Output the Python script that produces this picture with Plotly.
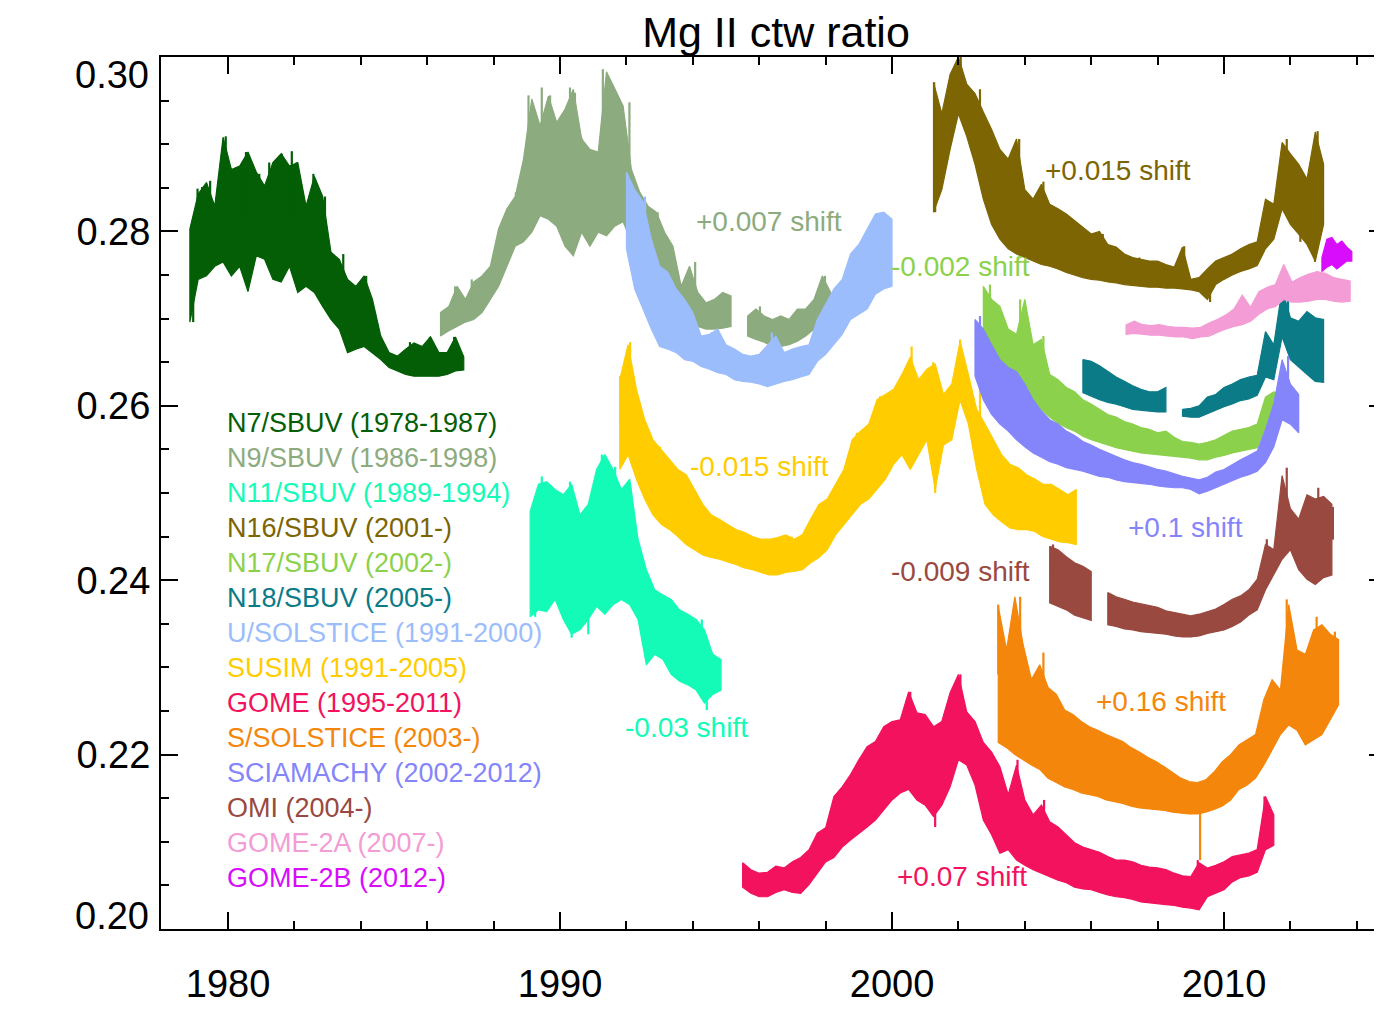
import plotly.graph_objects as go

# ---------------- data (upper / lower envelopes) ----------------
n7_start, n7_step = 1978.85, 0.25
n7_hi = [.2803,.2843,.2856,.2829,.2908,.2871,.2875,.2891,.2868,.2852,.2879,.2889,.2875,.2879,.2829,.2863,.2840,
         .2776,.2768,.2745,.2737,.2749,.2722,.2680,.2661,.2657,.2665,.2672,.2668,.2679,.2661,.2661,.2679,.2656]
n7_lo = [.2696,.2745,.2749,.2760,.2765,.2749,.2760,.2731,.2772,.2768,.2745,.2742,.2760,.2730,.2737,.2730,.2714,
         .2699,.2688,.2661,.2665,.2668,.2661,.2653,.2644,.2640,.2636,.2634,.2634,.2634,.2634,.2636,.2640,.2641]
n7_spk_t = [1978.95,1979.08,1979.22,1979.46,1979.93,1980.41,1980.54,1980.94,1981.24,1981.62,1981.92,1982.07,
            1982.57,1982.92,1983.47,1984.16,1985.48,1986.08,1986.81]
n7_spk_v = [.2696,.2849,.2851,.2858,.2909,.2875,.2891,.2866,.2879,.2889,.2892,.2879,.2866,.2840,.2774,.2749,
            .2673,.2679,.2679]

n9_start, n9_step = 1986.4, 0.25
n9_hi = [.2707,.2714,.2737,.2722,.2742,.2749,.2760,.2803,.2826,.2840,.2883,.2952,.2921,.2955,.2925,.2940,.2963,
         .2906,.2894,.2891,.2983,.2963,.2944,.2871,.2845,.2829,.2822,.2799,.2783,.2737,.2760,.2730,.2718,.2722,
         .2730,.2726,None,.2703,.2711,.2703,.2699,.2703,.2699,.2711,.2711,.2722,.2749,.2730]
n9_lo = [.2680,.2686,.2691,.2696,.2699,.2707,.2722,.2737,.2760,.2783,.2788,.2799,.2818,.2814,.2806,.2783,.2772,
         .2799,.2783,.2799,.2795,.2806,.2811,.2788,.2768,.2757,.2745,.2734,.2726,.2714,.2703,.2691,.2688,.2688,
         .2689,.2691,None,.2680,.2676,.2673,.2668,.2668,.2670,.2674,.2680,.2688,.2699,.2703]
n9_spk_t = [1986.84,1987.34,1988.27,1988.67,1989.05,1989.45,1989.70,1990.30,1990.45,1990.65,1990.98,1991.29,
            1991.59,1992.09,1992.94,1994.07,1996.02,1997.98]
n9_spk_v = [.2737,.2745,.2806,.2845,.2956,.2965,.2956,.2965,.2959,.2907,.2891,.2986,.2961,.2948,.2822,.2765,
            .2714,.2749]

n11_start, n11_step = 1989.1, 0.25
n11_hi = [.2479,.2510,.2513,.2504,.2498,.2510,.2475,.2487,.2527,.2544,.2527,.2504,.2516,.2447,.2412,.2389,.2383,
          .2378,.2366,.2361,.2355,.2343,.2315,.2309]
n11_lo = [.2358,.2366,.2364,.2378,.2355,.2338,.2343,.2355,.2370,.2361,.2372,.2378,.2372,.2355,.2303,.2315,.2309,
          .2292,.2284,.2280,.2274,.2259,.2269,.2274]
n11_spk_t = [1989.25,1989.45,1990.30,1990.35,1990.85,1991.26,1991.66,1992.11,1994.27,1994.42,1994.77]
n11_spk_v = [.2358,.2519,.2513,.2334,.2338,.2544,.2530,.2506,.2355,.2251,.2309]

n16_start, n16_step = 2001.25, 0.25
n16_hi = [.2971,.2935,.2980,.3000,.2969,.2958,.2937,.2917,.2894,.2883,.2906,.2848,.2837,.2854,.2831,.2826,.2820,
          .2812,.2805,.2797,.2800,.2785,.2782,.2774,.2770,.2768,.2766,.2766,.2762,.2759,.2782,.2745,.2747,.2757,
          .2766,.2770,.2774,.2780,.2785,.2788,.2837,.2831,.2902,.2889,.2877,.2860,.2914,.2877]
n16_lo = [.2822,.2848,.2894,.2935,.2909,.2877,.2837,.2808,.2791,.2780,.2774,.2770,.2766,.2762,.2760,.2757,.2753,
          .2750,.2747,.2745,.2744,.2742,.2741,.2739,.2738,.2737,.2736,.2736,.2735,.2735,.2734,.2733,.2731,.2722,
          .2739,.2745,.2750,.2754,.2757,.2761,.2780,.2791,.2826,.2808,.2797,.2785,.2766,.2808]
n16_spk_t = [2001.27,2001.30,2001.85,2002.07,2002.65,2003.83,2004.56,2006.35,2007.45,2008.80,2009.58,2011.89,
             2012.30,2012.74,2012.82]
n16_spk_v = [.2971,.2822,.2983,.3001,.2963,.2906,.2857,.2797,.2770,.2783,.2719,.2906,.2788,.2765,.2915]

n17_start, n17_step = 2002.75, 0.25
n17_hi = [.2737,.2722,.2714,.2688,.2682,.2722,.2670,.2676,.2636,.2630,.2621,.2616,.2607,.2602,.2596,.2590,.2587,
          .2582,.2579,.2575,.2573,.2569,.2571,.2564,.2559,.2558,.2556,.2558,.2561,.2566,.2571,.2573,.2575,.2579,
          .2610,.2616,.2613]
n17_lo = [.2661,.2657,.2650,.2636,.2625,.2613,.2605,.2596,.2587,.2580,.2575,.2571,.2565,.2561,.2558,.2555,.2552,
          .2550,.2548,.2546,.2545,.2544,.2543,.2542,.2541,.2540,.2538,.2538,.2541,.2543,.2546,.2548,.2550,.2552,
          .2575,.2582,.2584]
n17_spk_t = [2002.95,2003.86,2004.56]
n17_spk_v = [.2739,.2722,.2680]

n18_start, n18_step = 2005.75, 0.25
n18_hi = [.2653,.2651,.2646,.2639,.2633,.2628,.2623,.2619,.2616,.2616,.2621,None,.2596,.2597,.2600,.2610,.2613,
          .2621,.2625,.2630,.2633,.2635,.2685,.2670,.2734,.2701,.2697,.2708,.2701,.2699]
n18_lo = [.2615,.2611,.2607,.2604,.2602,.2599,.2596,.2595,.2594,.2593,.2593,None,.2588,.2587,.2587,.2591,.2595,
          .2599,.2602,.2606,.2608,.2612,.2633,.2630,.2679,.2653,.2645,.2636,.2628,.2627]
n18_spk_t = [2011.93]
n18_spk_v = [.2734]

usol_start, usol_step = 1992.0, 0.25
usol_hi = [.2868,.2848,.2834,.2791,.2760,.2753,.2734,.2722,.2707,.2680,.2682,.2688,.2670,.2665,.2659,.2657,.2659,
           .2670,.2680,.2661,.2665,.2668,.2670,.2699,.2716,.2734,.2745,.2774,.2785,.2803,.2820,.2822,.2814]
usol_lo = [.2780,.2734,.2711,.2688,.2668,.2665,.2661,.2653,.2651,.2645,.2642,.2638,.2636,.2630,.2628,.2627,.2625,
           .2622,.2625,.2628,.2630,.2633,.2636,.2651,.2659,.2670,.2682,.2699,.2705,.2711,.2728,.2734,.2737]
usol_spk_t = [1992.56,1996.38,1999.69,1999.88]
usol_spk_v = [.2840,.2684,.2822,.2818]

susim_start, susim_step = 1991.8, 0.25
susim_hi = [.2630,.2670,.2619,.2584,.2561,.2550,.2538,.2527,.2521,.2504,.2487,.2475,.2470,.2464,.2458,.2455,.2450,
            .2447,.2447,.2449,.2452,.2447,.2452,.2470,.2487,.2493,.2510,.2527,.2561,.2571,.2579,.2607,.2613,.2619,
            .2636,.2656,.2630,.2642,.2648,.2613,.2625,.2674,.2636,.2596,.2579,.2561,.2544,.2533,.2529,.2521,.2516,
            .2510,.2510,.2504,.2498,.2504]
susim_lo = [.2527,.2544,.2516,.2493,.2475,.2464,.2458,.2450,.2441,.2435,.2429,.2426,.2424,.2421,.2418,.2414,.2412,
            .2409,.2406,.2406,.2409,.2410,.2412,.2420,.2426,.2435,.2452,.2464,.2475,.2487,.2493,.2504,.2516,.2533,
            .2544,.2527,.2544,.2561,.2504,.2555,.2561,.2607,.2579,.2527,.2487,.2475,.2467,.2460,.2458,.2458,.2456,
            .2450,.2447,.2444,.2443,.2441]
susim_spk_t = [1991.81,1992.11,1993.01,1994.07,1996.98,1998.94,1999.64,2000.59,2001.24,2001.30,2002.05,2002.65,
               2005.51]
susim_spk_v = [.2634,.2673,.2553,.2502,.2450,.2569,.2611,.2668,.2650,.2500,.2676,.2630,.2443]

gome_start, gome_step = 1995.5, 0.25
gome_hi = [.2076,.2068,.2064,.2065,.2072,.2070,.2077,.2082,.2091,.2110,.2116,.2152,.2163,.2177,.2194,.2209,.2215,
           .2232,.2238,.2240,.2272,.2248,.2246,.2232,.2238,.2271,.2292,.2249,.2238,.2214,.2203,.2186,.2154,.2188,
           .2148,.2131,.2142,.2123,.2117,.2108,.2099,.2094,.2091,.2088,.2083,.2079,.2079,.2077,.2073,.2071,.2070,
           .2068,.2064,.2061,.2060,.2076,.2070,.2073,.2077,.2083,.2085,.2087,.2091,.2152,.2131]
gome_lo = [.2048,.2041,.2037,.2037,.2042,.2045,.2042,.2041,.2051,.2064,.2077,.2082,.2094,.2102,.2110,.2117,.2125,
           .2137,.2148,.2156,.2160,.2148,.2142,.2129,.2142,.2163,.2194,.2188,.2165,.2125,.2108,.2087,.2091,.2079,
           .2073,.2068,.2064,.2060,.2056,.2053,.2048,.2046,.2045,.2042,.2039,.2037,.2036,.2034,.2031,.2030,.2029,
           .2028,.2027,.2025,.2024,.2022,.2037,.2041,.2045,.2054,.2059,.2061,.2065,.2091,.2096]
gome_spk_t = [2000.55,2001.30,2002.06,2003.30,2003.78,2004.58,2009.21,2011.22]
gome_spk_v = [.2272,.2117,.2292,.2087,.2194,.2148,.2079,.2152]

ssol_start, ssol_step = 2003.2, 0.25
ssol_hi = [.2370,.2320,.2381,.2326,.2286,.2303,.2277,.2269,.2251,.2246,.2238,.2232,.2228,.2223,.2219,.2215,.2208,
           .2203,.2197,.2192,.2186,.2180,.2173,.2169,.2168,.2171,.2180,.2192,.2200,.2211,.2217,.2223,.2263,.2286,
           .2274,.2372,.2320,.2315,.2343,.2349,.2338,.2332]
ssol_lo = [.2214,.2208,.2200,.2194,.2188,.2183,.2173,.2168,.2163,.2160,.2156,.2154,.2152,.2148,.2146,.2144,.2141,
           .2139,.2138,.2137,.2136,.2134,.2133,.2132,.2132,.2134,.2137,.2141,.2148,.2160,.2165,.2173,.2188,.2206,
           .2223,.2234,.2228,.2211,.2217,.2223,.2240,.2257]
ssol_spk_t = [2003.20,2003.86,2004.56,2009.28,2011.89,2012.79,2013.34]
ssol_spk_v = [.2372,.2381,.2317,.2079,.2378,.2358,.2341]

scia_start, scia_step = 2002.5, 0.25
scia_hi = [.2699,.2688,.2670,.2653,.2644,.2639,.2625,.2607,.2594,.2584,.2579,.2571,.2566,.2559,.2555,.2550,.2546,
           .2542,.2538,.2535,.2533,.2530,.2527,.2525,.2522,.2519,.2517,.2515,.2518,.2524,.2527,.2533,.2538,.2543,
           .2548,.2573,.2602,.2653,.2625,.2613]
scia_lo = [.2634,.2607,.2590,.2579,.2571,.2561,.2553,.2546,.2541,.2536,.2533,.2529,.2527,.2525,.2522,.2519,.2518,
           .2515,.2513,.2512,.2511,.2510,.2508,.2507,.2506,.2506,.2504,.2499,.2502,.2506,.2510,.2514,.2518,.2521,
           .2525,.2535,.2553,.2584,.2579,.2569]
scia_spk_t = [2002.65,2011.93]
scia_spk_v = [.2703,.2657]

omi_start, omi_step = 2004.75, 0.25
omi_hi = [.2439,.2435,.2427,.2420,.2416,.2410,None,.2386,.2381,.2378,.2375,.2373,.2371,.2369,.2365,.2363,.2361,
          .2359,.2361,.2364,.2367,.2372,.2378,.2382,.2389,.2401,.2441,.2435,.2520,.2482,.2470,.2498,.2493,.2496,.2487]
omi_lo = [.2374,.2370,.2366,.2360,.2357,.2354,None,.2349,.2347,.2344,.2343,.2341,.2340,.2339,.2338,.2336,.2335,
          .2335,.2336,.2339,.2341,.2343,.2347,.2352,.2360,.2366,.2389,.2406,.2424,.2435,.2412,.2401,.2395,.2403,.2406]
omi_spk_t = [2004.85,2011.29,2011.89,2012.84,2013.28]
omi_spk_v = [.2441,.2447,.2529,.2506,.2484]

g2a_start, g2a_step = 2007.05, 0.25
g2a_hi = [.2693,.2697,.2693,.2692,.2693,.2691,.2690,.2690,.2689,.2690,.2695,.2699,.2704,.2711,.2727,.2713,.2731,
          .2736,.2739,.2762,.2742,.2747,.2751,.2754,.2752,.2747,.2745,.2743]
g2a_lo = [.2682,.2683,.2682,.2681,.2681,.2680,.2679,.2679,.2677,.2679,.2680,.2684,.2688,.2691,.2693,.2697,.2705,
          .2711,.2714,.2722,.2719,.2719,.2720,.2722,.2722,.2720,.2719,.2720]
g2a_spk_t = []
g2a_spk_v = []

g2b_start, g2b_step = 2012.95, 0.15
g2b_hi = [.2770,.2791,.2793,.2785,.2789,.2782,.2777]
g2b_lo = [.2754,.2759,.2762,.2757,.2762,.2766,.2766]
g2b_spk_t = []
g2b_spk_v = []

legend_labels = ["N7/SBUV (1978-1987)", "N9/SBUV (1986-1998)", "N11/SBUV (1989-1994)", "N16/SBUV (2001-)",
                 "N17/SBUV (2002-)", "N18/SBUV (2005-)", "U/SOLSTICE (1991-2000)", "SUSIM (1991-2005)",
                 "GOME (1995-2011)", "S/SOLSTICE (2003-)", "SCIAMACHY (2002-2012)", "OMI (2004-)",
                 "GOME-2A (2007-)", "GOME-2B (2012-)"]
colors = ["#035e06", "#8cab7e", "#14fbb8", "#7c6502", "#8bd14c", "#0b7b87", "#9cbdfb", "#ffcc00",
          "#f2125e", "#f4860b", "#8585fb", "#99493f", "#f39cd5", "#d70dfb"]

shift_texts = ["+0.007 shift", "-0.002 shift", "+0.015 shift", "-0.015 shift", "+0.1 shift",
               "-0.009 shift", "+0.16 shift", "-0.03 shift", "+0.07 shift"]
shift_x = [1996.3, 2002.05, 2006.8, 1996.0, 2008.85, 2002.05, 2008.1, 1993.8, 2002.1]
shift_y = [0.2811, 0.2760, 0.2870, 0.2530, 0.2460, 0.2410, 0.2261, 0.2231, 0.2060]
shift_colors = ["#8cab7e", "#8bd14c", "#7c6502", "#ffcc00", "#8585fb", "#99493f", "#f4860b", "#14fbb8", "#f2125e"]

y_tick_vals = [0.20, 0.22, 0.24, 0.26, 0.28, 0.30]
y_tick_text = ["0.20", "0.22", "0.24", "0.26", "0.28", "0.30"]
x_tick_vals = [1980, 1990, 2000, 2010]

title_text = "Mg II ctw ratio"

series = [
    (n7_start, n7_step, n7_hi, n7_lo, n7_spk_t, n7_spk_v),
    (n9_start, n9_step, n9_hi, n9_lo, n9_spk_t, n9_spk_v),
    (n11_start, n11_step, n11_hi, n11_lo, n11_spk_t, n11_spk_v),
    (n16_start, n16_step, n16_hi, n16_lo, n16_spk_t, n16_spk_v),
    (n17_start, n17_step, n17_hi, n17_lo, n17_spk_t, n17_spk_v),
    (n18_start, n18_step, n18_hi, n18_lo, n18_spk_t, n18_spk_v),
    (usol_start, usol_step, usol_hi, usol_lo, usol_spk_t, usol_spk_v),
    (susim_start, susim_step, susim_hi, susim_lo, susim_spk_t, susim_spk_v),
    (gome_start, gome_step, gome_hi, gome_lo, gome_spk_t, gome_spk_v),
    (ssol_start, ssol_step, ssol_hi, ssol_lo, ssol_spk_t, ssol_spk_v),
    (scia_start, scia_step, scia_hi, scia_lo, scia_spk_t, scia_spk_v),
    (omi_start, omi_step, omi_hi, omi_lo, omi_spk_t, omi_spk_v),
    (g2a_start, g2a_step, g2a_hi, g2a_lo, g2a_spk_t, g2a_spk_v),
    (g2b_start, g2b_step, g2b_hi, g2b_lo, g2b_spk_t, g2b_spk_v),
]


def band_polygons(start, step, hi, lo):
    """Closed polygons (upper edge forward, lower edge back) for every gap-free segment."""
    xs, ys = [], []
    seg = []
    for i, (h, l) in enumerate(list(zip(hi, lo)) + [(None, None)]):
        if h is None:
            if seg:
                t = [s[0] for s in seg]
                xs += t + t[::-1] + [t[0], None]
                ys += [s[1] for s in seg] + [s[2] for s in seg][::-1] + [seg[0][1], None]
            seg = []
        else:
            seg.append((start + step * i, h, l))
    return xs, ys


def spike_segments(start, step, hi, lo, spk_t, spk_v):
    """Vertical strokes from the middle of the band (nearest sample) to each read spike value."""
    xs, ys = [], []
    for t, v in zip(spk_t, spk_v):
        i = min(max(int(round((t - start) / step)), 0), len(hi) - 1)
        if hi[i] is None:
            continue
        base = 0.5 * (hi[i] + lo[i])
        xs += [t, t, None]
        ys += [base, v, None]
    return xs, ys


FONT = "Liberation Sans, Arial, Helvetica, sans-serif"
fig = go.Figure()
for (start, step, hi, lo, st, sv), col, name in zip(series, colors, legend_labels):
    xs, ys = band_polygons(start, step, hi, lo)
    fig.add_trace(go.Scatter(x=xs, y=ys, mode="lines", fill="toself", fillcolor=col,
                             line=dict(color=col, width=1.2), name=name, showlegend=False,
                             hoverinfo="skip"))
    if st:
        sx, sy = spike_segments(start, step, hi, lo, st, sv)
        fig.add_trace(go.Scatter(x=sx, y=sy, mode="lines", line=dict(color=col, width=2.2),
                                 showlegend=False, hoverinfo="skip"))

annotations = []
# legend text block
for i, (lab, col) in enumerate(zip(legend_labels, colors)):
    annotations.append(dict(x=1979.92, xref="x", y=0.5803 - i * 0.04014, yref="paper",
                            text=lab, showarrow=False, xanchor="left", yanchor="middle",
                            font=dict(family=FONT, size=27, color=col)))
for txt, x, y, col in zip(shift_texts, shift_x, shift_y, shift_colors):
    annotations.append(dict(x=x, y=y, xref="x", yref="y", text=txt, showarrow=False,
                            xanchor="center", yanchor="middle",
                            font=dict(family=FONT, size=28, color=col)))
# end labels of the y axis sit inside the frame, as in the original
annotations.append(dict(x=0, xref="paper", y=y_tick_vals[-1], yref="y", text=y_tick_text[-1],
                        showarrow=False, xanchor="right", yanchor="middle", xshift=-10, yshift=-18,
                        font=dict(family=FONT, size=38, color="black")))
annotations.append(dict(x=0, xref="paper", y=y_tick_vals[0], yref="y", text=y_tick_text[0],
                        showarrow=False, xanchor="right", yanchor="middle", xshift=-10, yshift=13,
                        font=dict(family=FONT, size=38, color="black")))

axis_common = dict(showline=True, linecolor="black", linewidth=2, mirror="ticks", ticks="inside",
                   tickcolor="black", tickwidth=2, ticklen=17, showgrid=False, zeroline=False,
                   automargin=False, tickfont=dict(family=FONT, size=38, color="black"))

fig.update_layout(
    width=1382, height=1034,
    margin=dict(l=153, r=4, t=49, b=113),
    paper_bgcolor="white", plot_bgcolor="white",
    title=dict(text=title_text, x=768 / 1382, xref="container", xanchor="center",
               y=0.9764, yref="container", yanchor="middle",
               font=dict(family=FONT, size=43, color="black")),
    xaxis=dict(range=[1977.98, 2014.88], tickvals=x_tick_vals, ticklabelstandoff=20,
               minor=dict(dtick=2, tick0=1980, ticklen=8, tickwidth=2, ticks="inside", tickcolor="black"),
               **axis_common),
    yaxis=dict(range=[0.2, 0.3], tickvals=y_tick_vals,
               ticktext=[""] + y_tick_text[1:-1] + [""], ticklabelstandoff=1,
               minor=dict(dtick=0.005, tick0=0.2, ticklen=8, tickwidth=2, ticks="inside", tickcolor="black"),
               **axis_common),
    annotations=annotations,
    showlegend=False,
)

fig.write_html("out.html")
